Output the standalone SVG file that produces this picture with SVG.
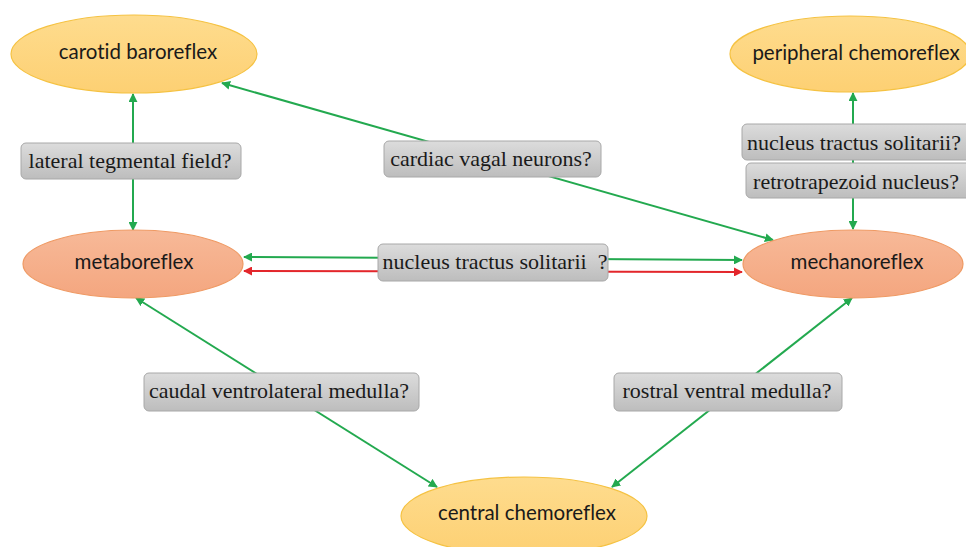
<svg xmlns="http://www.w3.org/2000/svg" width="966" height="547" viewBox="0 0 966 547">
<defs>
<linearGradient id="gbox" x1="0" y1="0" x2="0" y2="1">
<stop offset="0" stop-color="#dcdcdc"/>
<stop offset="1" stop-color="#bdbdbd"/>
</linearGradient>
<linearGradient id="gy" x1="0" y1="0" x2="0" y2="1">
<stop offset="0" stop-color="#fedc8e"/>
<stop offset="1" stop-color="#fdd073"/>
</linearGradient>
<linearGradient id="go" x1="0" y1="0" x2="0" y2="1">
<stop offset="0" stop-color="#f7b998"/>
<stop offset="1" stop-color="#f4a67f"/>
</linearGradient>
<marker id="ag" viewBox="0 0 10 10" refX="9" refY="5" markerWidth="9" markerHeight="9" markerUnits="userSpaceOnUse" orient="auto-start-reverse">
<path d="M0,0 L10,5 L0,10 Z" fill="#23a94f"/>
</marker>
<marker id="ar" viewBox="0 0 10 10" refX="9" refY="5" markerWidth="9" markerHeight="9" markerUnits="userSpaceOnUse" orient="auto-start-reverse">
<path d="M0,0 L10,5 L0,10 Z" fill="#e3262b"/>
</marker>
</defs>
<style>
.ey{fill:url(#gy);stroke:#f5c242;stroke-width:1.2}
.eo{fill:url(#go);stroke:#ef9a64;stroke-width:1.2}
.et{font-family:Lato,"Open Sans",sans-serif;font-size:20.5px;fill:#1a1a1a;text-anchor:middle;font-variant-ligatures:none}
.bx{fill:url(#gbox);stroke:#a8a8a8;stroke-width:1}
.bt{font-family:"Liberation Serif","Times New Roman",serif;font-size:22px;fill:#1a1a1a;text-anchor:middle}
.lg{stroke:#23a94f;stroke-width:2;fill:none}
.lr{stroke:#e3262b;stroke-width:2;fill:none}
</style>
<rect width="966" height="547" fill="#ffffff"/>
<g id="connectors">
<line class="lg" x1="133" y1="143" x2="133" y2="94" marker-end="url(#ag)"/>
<line class="lg" x1="133" y1="179" x2="133" y2="230" marker-end="url(#ag)"/>
<line class="lg" x1="773" y1="240" x2="222" y2="83" marker-start="url(#ag)" marker-end="url(#ag)"/>
<line class="lg" x1="853" y1="124" x2="853" y2="93" marker-end="url(#ag)"/>
<line class="lg" x1="853" y1="160" x2="853" y2="163"/>
<line class="lg" x1="853" y1="198" x2="853" y2="229" marker-end="url(#ag)"/>
<line class="lg" x1="244" y1="257" x2="742" y2="260" marker-start="url(#ag)" marker-end="url(#ag)"/>
<line class="lr" x1="244" y1="271" x2="742" y2="272" marker-start="url(#ar)" marker-end="url(#ar)"/>
<line class="lg" x1="136" y1="298" x2="437" y2="487" marker-start="url(#ag)" marker-end="url(#ag)"/>
<line class="lg" x1="612" y1="487" x2="852" y2="298" marker-start="url(#ag)" marker-end="url(#ag)"/>
</g>
<g id="carotid">
<ellipse class="ey" cx="134" cy="54" rx="123" ry="39"/>
<text class="et" x="138" y="59">carotid baroreflex</text>
</g>
<g id="peripheral">
<ellipse class="ey" cx="850" cy="54" rx="120" ry="38"/>
<text class="et" x="856" y="60">peripheral chemoreflex</text>
</g>
<g id="metaboreflex">
<ellipse class="eo" cx="133" cy="264" rx="110" ry="34"/>
<text class="et" x="134" y="269">metaboreflex</text>
</g>
<g id="mechanoreflex">
<ellipse class="eo" cx="853" cy="264" rx="110" ry="34"/>
<text class="et" x="857" y="269">mechanoreflex</text>
</g>
<g id="central">
<ellipse class="ey" cx="524" cy="516" rx="123" ry="39"/>
<text class="et" x="527" y="520">central chemoreflex</text>
</g>
<g id="lateral">
<rect class="bx" x="21" y="143" width="220" height="36" rx="5"/>
<text class="bt" x="130" y="168">lateral tegmental field?</text>
</g>
<g id="cardiac">
<rect class="bx" x="384" y="141" width="217" height="36" rx="5"/>
<text class="bt" x="491" y="166">cardiac vagal neurons?</text>
</g>
<g id="nts-right">
<rect class="bx" x="742" y="124" width="234" height="36" rx="5"/>
<text class="bt" x="854" y="150">nucleus tractus solitarii?</text>
</g>
<g id="retrotrapezoid">
<rect class="bx" x="746" y="163" width="230" height="35" rx="5"/>
<text class="bt" x="856" y="189">retrotrapezoid nucleus?</text>
</g>
<g id="nts-center">
<rect class="bx" x="378" y="244" width="230" height="37" rx="5"/>
<text class="bt" x="495" y="269" xml:space="preserve" style="white-space:pre">nucleus tractus solitarii  ?</text>
</g>
<g id="caudal">
<rect class="bx" x="144" y="373" width="275" height="38" rx="5"/>
<text class="bt" x="279" y="398">caudal ventrolateral medulla?</text>
</g>
<g id="rostral">
<rect class="bx" x="614" y="373" width="228" height="38" rx="5"/>
<text class="bt" x="727" y="398">rostral ventral medulla?</text>
</g>
</svg>
